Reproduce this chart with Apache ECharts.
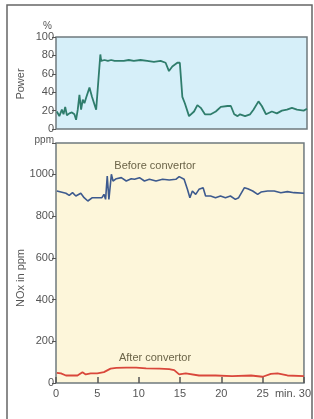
<!DOCTYPE html>
<html>
<head>
<meta charset="utf-8">
<script src="https://cdn.jsdelivr.net/npm/echarts@6/dist/echarts.min.js"></script>
<style>
  html, body { margin: 0; padding: 0; background: #fff; }
  #chart { width: 314px; height: 419px; }
</style>
</head>
<body>
<div id="chart"></div>
<script>
// power (%) over time (min)
var powerData = [
    [0.1, 19], [0.4, 14], [0.7, 21], [0.9, 16], [1.1, 24], [1.3, 15], [1.6, 17], [1.9, 18],
    [2.2, 16], [2.4, 10], [2.6, 21], [2.8, 37], [3.0, 21], [3.2, 32], [3.4, 28], [3.6, 34],
    [4.0, 45], [4.3, 35], [4.8, 21], [5.3, 81], [5.4, 74], [5.8, 75], [6.2, 74], [6.6, 75],
    [7.0, 74], [7.5, 74], [8.1, 74], [8.7, 75], [9.3, 74], [10.1, 75], [10.9, 74], [11.7, 73],
    [12.5, 74], [13.1, 72], [13.5, 63], [13.9, 68], [14.5, 72], [14.8, 72], [15.1, 35], [15.4, 28],
    [15.9, 14], [16.5, 19], [16.9, 26], [17.3, 23], [17.8, 16], [18.5, 16], [19.1, 19], [19.7, 24],
    [20.5, 25], [20.9, 25], [21.3, 16], [21.7, 14], [22.0, 16], [22.6, 14], [23.2, 16], [23.6, 21],
    [24.2, 30], [24.6, 25], [25.1, 16], [25.8, 19], [26.4, 17], [27.0, 20], [27.6, 21], [28.2, 23],
    [28.8, 21], [29.6, 20], [30.0, 22]
];

// NOx before convertor (ppm)
var beforeData = [
    [0.1, 920], [0.6, 915], [1.2, 909], [1.6, 899], [2.0, 912], [2.4, 896], [3.0, 909], [3.4, 888],
    [3.85, 872], [4.4, 888], [5.0, 888], [5.56, 888], [5.8, 904], [6.0, 880], [6.2, 992], [6.4, 880],
    [6.7, 1000], [6.9, 968], [7.3, 979], [7.9, 984], [8.5, 968], [9.1, 979], [9.5, 976], [10.1, 984],
    [10.7, 968], [11.3, 976], [12.1, 968], [12.9, 976], [13.7, 973], [14.5, 976], [14.9, 989], [15.5, 976],
    [15.9, 928], [16.2, 888], [16.5, 920], [16.9, 904], [17.3, 928], [17.8, 936], [18.1, 896], [18.7, 896],
    [19.3, 888], [19.9, 896], [20.5, 888], [21.1, 896], [21.7, 880], [22.1, 888], [22.8, 936], [23.2, 931],
    [23.8, 920], [24.4, 904], [24.8, 915], [25.6, 920], [26.4, 920], [27.2, 912], [28.0, 917], [28.8, 912],
    [30.0, 909]
];

// NOx after convertor (ppm)
var afterData = [
    [0.1, 49], [0.6, 46], [1.2, 36], [2.6, 36], [3.2, 52], [3.6, 41], [4.2, 46], [5.0, 46],
    [5.8, 52], [6.6, 69], [7.3, 72], [8.5, 74], [9.7, 74], [10.9, 70], [12.5, 69], [13.7, 66],
    [14.3, 62], [14.9, 41], [15.7, 46], [17.3, 36], [19.3, 36], [21.3, 33], [23.6, 36], [25.0, 30],
    [26.0, 44], [26.8, 46], [28.0, 36], [30.0, 33]
];

var powerTicks = [0, 100, 20];     // min, max, interval
var noxTicks = [0, 1150, 200];
var timeTicks = [0, 30, 5];

var myChart = echarts.init(document.getElementById('chart'));
var labelColor = '#555';
var font = 'Liberation Sans, Arial, sans-serif';

var option = {
    animation: false,
    backgroundColor: '#fff',
    grid: [{
        left: 56, top: 37, width: 251, height: 92,
        show: true,
        backgroundColor: '#d6eff9',
        borderColor: '#6f7a7e',
        borderWidth: 1.5
    }, {
        left: 56, top: 143, width: 251, height: 240,
        show: true,
        backgroundColor: '#fdf6da',
        borderColor: '#6f7a7e',
        borderWidth: 1.5
    }],
    xAxis: [{
        gridIndex: 0,
        type: 'value',
        min: timeTicks[0], max: timeTicks[1], interval: timeTicks[2],
        axisLine: { show: false },
        axisTick: { show: false },
        axisLabel: { show: false },
        splitLine: { show: false }
    }, {
        gridIndex: 1,
        type: 'value',
        min: timeTicks[0], max: timeTicks[1], interval: timeTicks[2],
        axisLine: { show: false },
        axisTick: { show: true, inside: true, length: 6, lineStyle: { color: '#555', width: 1.5 } },
        axisLabel: {
            color: labelColor,
            fontSize: 11,
            fontFamily: font,
            margin: 5,
            showMaxLabel: true,
            showMinLabel: true,
            hideOverlap: false,
            formatter: function(value) {
                if (value === 30) {
                    return '{r|min. 30}';
                }
                return value;
            },
            rich: {
                r: { color: labelColor, fontSize: 11, fontFamily: font, padding: [0, 22, 0, 0] }
            }
        },
        splitLine: { show: false }
    }],
    yAxis: [{
        gridIndex: 0,
        type: 'value',
        min: powerTicks[0], max: powerTicks[1], interval: powerTicks[2],
        name: '%',
        nameGap: 6,
        nameTextStyle: { color: labelColor, fontSize: 10, fontFamily: font, align: 'right', padding: [0, 4, 0, 0] },
        axisLine: { show: false },
        axisTick: { show: true, length: 4, lineStyle: { color: '#555' } },
        axisLabel: { color: labelColor, fontSize: 11, fontFamily: font, margin: 2 },
        splitLine: { show: false }
    }, {
        gridIndex: 1,
        type: 'value',
        min: noxTicks[0], max: noxTicks[1], interval: noxTicks[2],
        name: 'ppm',
        nameGap: -2,
        nameTextStyle: { color: labelColor, fontSize: 10, fontFamily: font, align: 'right', padding: [0, 2, 0, 0] },
        axisLine: { show: false },
        axisTick: { show: true, length: 4, lineStyle: { color: '#555' } },
        axisLabel: {
            color: labelColor, fontSize: 11, fontFamily: font, margin: 2,
            formatter: function(value) {
                // 顶端的最大值不显示
                if (value % 200 !== 0) {
                    return '';
                }
                return value;
            }
        },
        splitLine: { show: false }
    }],
    series: [{
        name: 'Power',
        type: 'line',
        xAxisIndex: 0, yAxisIndex: 0,
        data: powerData,
        symbol: 'none',
        lineStyle: { color: '#2f7d6c', width: 1.8 }
    }, {
        name: 'Before convertor',
        type: 'line',
        xAxisIndex: 1, yAxisIndex: 1,
        data: beforeData,
        symbol: 'none',
        lineStyle: { color: '#3d5a8e', width: 1.6 }
    }, {
        name: 'After convertor',
        type: 'line',
        xAxisIndex: 1, yAxisIndex: 1,
        data: afterData,
        symbol: 'none',
        lineStyle: { color: '#d9473b', width: 1.8 }
    }],
    graphic: [{
        type: 'rect',
        shape: { x: 7, y: 5, width: 305, height: 425 },
        style: { fill: 'none', stroke: '#666', lineWidth: 1.5 },
        silent: true
    }, {
        type: 'text',
        x: 21, y: 84,
        rotation: Math.PI / 2,
        style: { text: 'Power', fill: labelColor, fontSize: 11, fontFamily: font, align: 'center', verticalAlign: 'middle' }
    }, {
        type: 'text',
        x: 21, y: 278,
        rotation: Math.PI / 2,
        style: { text: 'NOx in ppm', fill: labelColor, fontSize: 11, fontFamily: font, align: 'center', verticalAlign: 'middle' }
    }, {
        type: 'text',
        x: 155, y: 166,
        style: { text: 'Before convertor', fill: '#6b6448', fontSize: 11, fontFamily: font, align: 'center', verticalAlign: 'middle' }
    }, {
        type: 'text',
        x: 155, y: 358,
        style: { text: 'After convertor', fill: '#6b6448', fontSize: 11, fontFamily: font, align: 'center', verticalAlign: 'middle' }
    }]
};
myChart.setOption(option);
</script>
</body>
</html>
